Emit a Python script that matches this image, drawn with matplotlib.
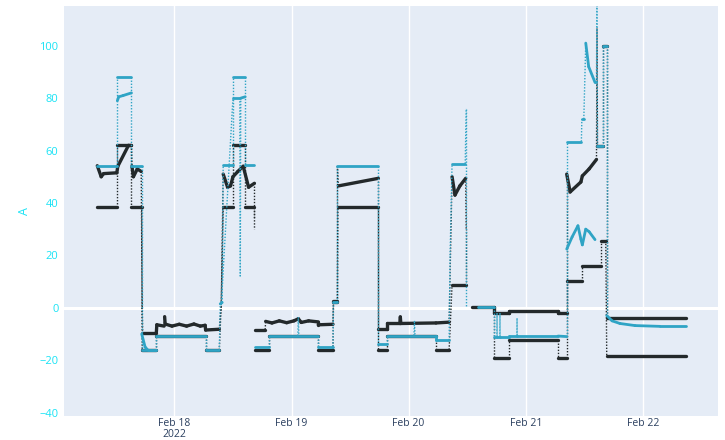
import numpy as np
import matplotlib
matplotlib.use("Agg")
import matplotlib.pyplot as plt
import matplotlib.dates as mdates
from matplotlib.collections import LineCollection
from datetime import datetime

plt.rcParams['font.family'] = ['Open Sans', 'DejaVu Sans']

t0 = datetime(2022, 2, 17)
nan = np.nan

# hours since Feb 17 00:00 and current in A
dark_set_t = [8.2, 12.3, 12.3, 15.2, 15.2, 17.3, 17.4, 20.3, 20.3, 30.4, 30.4, 33.2, 33.6, 34.0, 36.0, 36.0,
              38.5, 38.5, 40.4, 40.4, nan,
              40.6, 43.45, 43.45, 53.5, 53.5, 56.5, 56.6, 57.4, 57.5, 65.8, 65.8, 67.6, 67.6, 77.6, 77.6,
              80.3, 80.9, 83.8, 83.8, nan,
              85.0, 89.5, 89.5, 92.6, 92.6, 102.6, 102.6, 104.4, 104.4, 107.5, 107.5, 111.4, 111.4,
              112.4, 112.6, 128.8]
dark_set_v = [38.5, 38.5, 62, 62, 38.5, 38.5, -16.2, -16.2, -10.6, -10.6, -16.2, -16.2, 1.5, 38.5, 38.5, 62,
              62, 38.5, 38.5, 34, nan,
              -16.0, -16.0, -10.7, -10.7, -16.0, -16.0, 2.3, 2.3, 38.5, 38.5, -16.0, -16.0, -10.6, -10.6, -16.0,
              -16.0, 8.7, 8.7, 30, nan,
              0.4, 0.4, -19, -19, -12.4, -12.4, -19, -19, 10.1, 10.1, 16, 16, 25.6,
              25.6, -18.4, -18.4]

dark_act_t = [8.2, 9.0, 9.5, 12.2, 12.4, 14.6, 15.2, 15.3, 15.6, 16.4, 17.2, 17.4, 17.5, 20.3, 20.4,
              21.9, 22.0, 22.1, 23.5, 25.0, 26.5, 28.0, 29.3, 30.3, 30.4, 33.2, 33.6, 34.0,
              34.9, 35.5, 36.0, 37.0, 38.1, 39.2, 40.4, 40.4, nan,
              40.6, 42.6, 42.7, 44.0, 45.5, 47.0, 48.5, 49.4, 50.0, 51.5, 53.5, 53.5, 56.5, 56.6, 57.4,
              57.4, 57.6, 65.8, 65.8, 67.6, 67.6, 70.2, 70.3, 70.4, 77.6, 80.3, 80.9, 81.5, 82.5, 83.7,
              83.8, nan,
              89.5, 89.5, 92.6, 92.6, 102.6, 102.6, 104.4, 104.4, 105.1, 107.3, 107.6, 109.0, 110.5,
              110.6, 110.7, 111.8, 111.8, 112.6, 112.6, 128.8]
dark_act_v = [54.2, 50, 51.2, 51.5, 54, 62, 62, 54, 50, 53, 52, 0, -9.5, -9.5, -6.5,
              -7, -3.4, -6.2, -7, -6.3, -7, -6.2, -7, -6.7, -8.5, -8.2, 1, 51,
              46, 46.5, 50, 52, 54, 46, 47.5, 30, nan,
              -8.3, -8.3, -5.2, -5.8, -5.0, -5.7, -5.0, -4.2, -5.6, -5.0, -5.4, -6.5, -6.3, 2.5, 2.5,
              54, 46.5, 49.4, -8, -8, -6, -6, -3.5, -6, -5.8, -5.5, 50, 43, 46.5, 49.4,
              30, nan,
              0.4, -2, -2, -1.3, -1.3, -2, -2, 51, 44.2, 48, 50.3, 53, 56.6,
              106.6, 61.7, 61.7, 100, 100, -3.8, -3.8]

cyan_set_t = [8.2, 12.3, 12.3, 15.2, 15.2, 17.3, 17.3, 20.3, 20.3, 30.4, 30.4, 33.2, 33.4, 33.8, 34.0,
              36.0, 36.0, 38.5, 38.5, 40.4, nan,
              40.6, 43.45, 43.45, 49.3, 49.4, 49.5, 53.5, 53.5, 56.5, 56.6, 57.4, 57.4, 65.8, 65.8,
              67.6, 67.6, 73.1, 73.2, 73.3, 77.6, 77.6, 80.3, 80.5, 80.9, 83.6, 83.8, 83.8, nan,
              86.2, 89.5, 89.5, 90.1, 90.12, 90.14, 90.7, 90.72, 90.74, 92.6, 92.6, 94.2, 94.22, 94.24,
              102.6, 104.4, 104.4, 107.4, 107.5, 107.9, 108.3, 108.9, 110.2, 110.5, 110.6, 110.7, 111.8,
              111.8, 112.6, 112.6, 113.7, 115.3, 118.4, 123.5, 128.8]
cyan_set_v = [54.2, 54.2, 88.1, 88.1, 54.2, 54.2, -16.2, -16.2, -10.6, -10.6, -16.2, -16.2, 1.5, 2, 54.3,
              54.3, 88.1, 88.1, 54.3, 54.3, nan,
              -14.8, -14.8, -10.7, -10.7, -3.6, -10.7, -10.7, -14.8, -14.8, 2.3, 2.3, 54.2, 54.2, -13.7,
              -13.7, -10.6, -10.6, -5, -10.6, -10.6, -12.4, -12.4, 20, 55, 55, 76, 0.5, nan,
              0.3, 0.3, -11.2, -11.2, -2, -11.2, -11.2, -2, -11.2, -11.2, -10.8, -10.8, -4, -10.8,
              -10.8, -11, 63.4, 63.4, 72, 72, 101, 92, 86, 86, 125, 61.7, 61.7,
              100, 100, -3, -5, -6, -6.8, -7.1, -7.1]

cyan_act_t = [12.3, 12.6, 13.5, 15.2, nan,
              17.3, 18.0, 18.5, 20.3, nan,
              33.6, 36.0, 37.4, 37.5, 37.6, 38.5, nan,
              104.4, 105.5, 106.7, 107.3, 107.6, 108.3, 109.0, 110.2]
cyan_act_v = [79, 80.5, 81, 82, nan,
              -10, -15, -16, -16, nan,
              1, 80, 80, 12, 80, 80.5, nan,
              22.4, 27, 31.3, 26.2, 24, 30, 29, 26]

day_ticks = [datetime(2022, 2, d) for d in (18, 19, 20, 21, 22)]
day_labels = ['Feb 18\n2022', 'Feb 19', 'Feb 20', 'Feb 21', 'Feb 22']

base = mdates.date2num(t0)


def draw(ax, hours, vals, color, lw, z):
    x = base + np.asarray(hours, float) / 24.0
    y = np.asarray(vals, float)
    solid, dotted = [], []
    for i in range(len(x) - 1):
        if np.isnan(x[i]) or np.isnan(x[i + 1]):
            continue
        seg = [(x[i], y[i]), (x[i + 1], y[i + 1])]
        dt = (x[i + 1] - x[i]) * 24
        dv = abs(y[i + 1] - y[i])
        # fast jumps between samples show up as sparse dots
        steep = dv > 3 and dv > 20 * dt
        (dotted if steep else solid).append(seg)
    ax.add_collection(LineCollection(solid, colors=color, linewidths=lw, zorder=z,
                                     capstyle='round', joinstyle='round'))
    ax.add_collection(LineCollection(dotted, colors=color, linewidths=1.0, zorder=z,
                                     linestyles=[(0, (1, 1.2))]))


fig = plt.figure(figsize=(7.25, 4.4), dpi=100)
ax = fig.add_axes([0.0883, 0.054, 0.9017, 0.932])
ax.set_facecolor('#e5ecf6')

dark = '#23292b'
cyan = '#2fa4c5'
draw(ax, dark_set_t, dark_set_v, dark, 2.4, 3)
draw(ax, dark_act_t, dark_act_v, dark, 2.4, 4)
draw(ax, cyan_set_t, cyan_set_v, cyan, 2.0, 5)
draw(ax, cyan_act_t, cyan_act_v, cyan, 2.0, 6)

ax.set_xlim(base + 1.38 / 24, base + 135.35 / 24)
ax.set_ylim(-41.4, 115.1)

ax.set_xticks([mdates.date2num(d) for d in day_ticks])
ax.set_xticklabels(day_labels, color='#2a3f5f', fontsize=7.5, linespacing=1.1)
ax.set_yticks(range(-40, 101, 20))
ax.set_yticklabels([str(v).replace('-', '\u2212') for v in range(-40, 101, 20)],
                   color='#19e3f5', fontsize=8)
ax.tick_params(axis='y', length=0, pad=4)
ax.tick_params(axis='x', length=0, pad=1)
ax.grid(axis='x', color='white', linewidth=1.0)
ax.set_axisbelow(True)
ax.axhline(0, color='white', linewidth=2.2, zorder=1)
for s in ax.spines.values():
    s.set_visible(False)

ax.set_ylabel('A', color='#19e3f5', fontsize=9, labelpad=6)

fig.savefig('out.png', dpi=100)
